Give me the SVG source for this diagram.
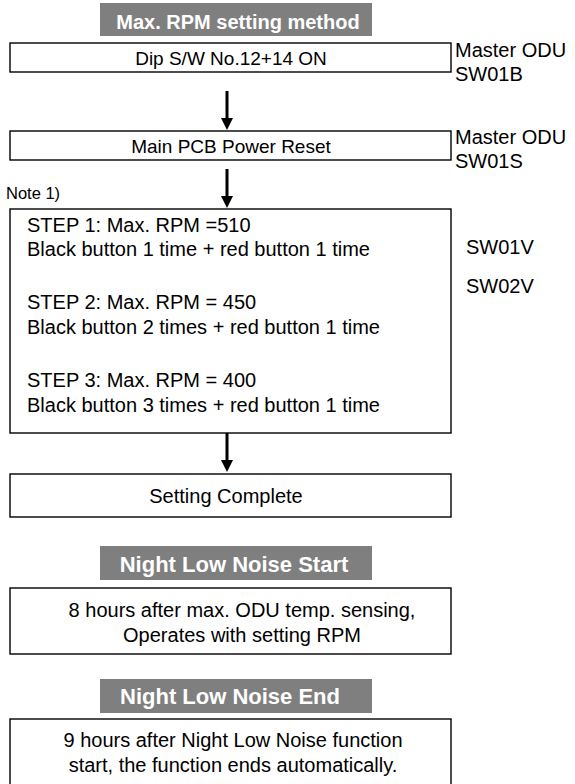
<svg xmlns="http://www.w3.org/2000/svg" width="575" height="784" viewBox="0 0 575 784">
<style>
text{font-family:"Liberation Sans",Arial,sans-serif;fill:#000;font-size:20px}
.box{fill:#fff;stroke:#000;stroke-width:1.4}
.ttl{fill:#7f7f7f}
.tt{font-weight:bold;fill:#fff;text-anchor:middle}
.c{text-anchor:middle}
.arr{stroke:#000;stroke-width:3}
.head{fill:#000}
</style>
<g id="title1"><rect class="ttl" x="100" y="3" width="272" height="33"/><text class="tt" x="238" y="28.5">Max. RPM setting method</text></g>
<g id="box1"><rect class="box" x="10" y="43" width="441" height="29"/><text class="c" x="231" y="64.5" style="font-size:19px">Dip S/W No.12+14 ON</text></g>
<g id="lbl1"><text x="455" y="57">Master ODU</text><text x="455" y="81">SW01B</text></g>
<g id="box2"><rect class="box" x="10" y="131" width="441" height="29"/><text class="c" x="231" y="152.5" style="font-size:19px">Main PCB Power Reset</text></g>
<g id="lbl2"><text x="455" y="144">Master ODU</text><text x="455" y="168">SW01S</text></g>
<g id="note"><text x="6" y="199" style="font-size:16.5px">Note 1)</text></g>
<g id="steps"><rect class="box" x="10" y="209" width="441" height="224"/>
<text x="27" y="232">STEP 1: Max. RPM =510</text>
<text x="27" y="256">Black button 1 time + red button 1 time</text>
<text x="27" y="309">STEP 2: Max. RPM = 450</text>
<text x="27" y="334">Black button 2 times + red button 1 time</text>
<text x="27" y="387">STEP 3: Max. RPM = 400</text>
<text x="27" y="412">Black button 3 times + red button 1 time</text>
</g>
<g id="lbl3"><text x="466" y="254">SW01V</text><text x="466" y="293">SW02V</text></g>
<g id="complete"><rect class="box" x="10" y="474" width="441" height="43"/><text class="c" x="226" y="503">Setting Complete</text></g>
<g id="title2"><rect class="ttl" x="100" y="546" width="272" height="34"/><text class="tt" x="234" y="572" style="font-size:22px">Night Low Noise Start</text></g>
<g id="start"><rect class="box" x="10" y="588" width="441" height="66"/><text class="c" x="242" y="617">8 hours after max. ODU temp. sensing,</text><text class="c" x="242" y="642">Operates with setting RPM</text></g>
<g id="title3"><rect class="ttl" x="100" y="679" width="272" height="34"/><text class="tt" x="230" y="703.5" style="font-size:22px">Night Low Noise End</text></g>
<g id="end"><rect class="box" x="10" y="719" width="441" height="72"/><text class="c" x="233" y="747">9 hours after Night Low Noise function</text><text class="c" x="233" y="772">start, the function ends automatically.</text></g>
<g id="connectors">
<line class="arr" x1="227" y1="91" x2="227" y2="119"/><polygon class="head" points="221,118 233,118 227,130"/>
<line class="arr" x1="227" y1="169" x2="227" y2="197"/><polygon class="head" points="221,196 233,196 227,208"/>
<line class="arr" x1="227" y1="433" x2="227" y2="461"/><polygon class="head" points="221,460 233,460 227,472"/>
</g>
</svg>
